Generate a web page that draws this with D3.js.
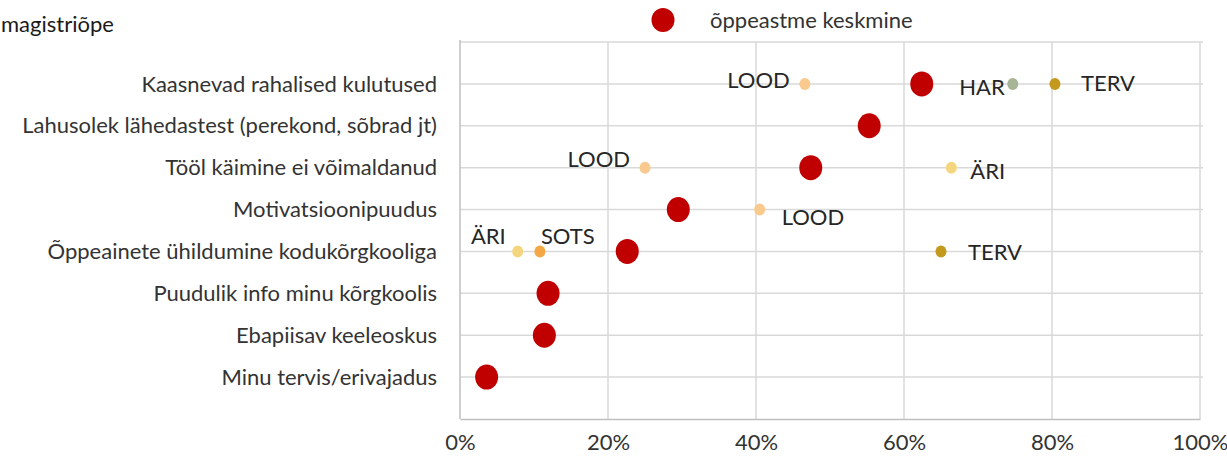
<!DOCTYPE html>
<html>
<head>
<meta charset="utf-8">
<script src="https://cdn.jsdelivr.net/npm/d3@7"></script>
<style>
  body { margin: 0; background: #fff; }
  text { font-family: Lato, "Open Sans", sans-serif; fill: #333; }
</style>
</head>
<body>
<svg id="chart" width="1227" height="460"></svg>
<script>
// Data
const categories = [
  'Kaasnevad rahalised kulutused',
  'Lahusolek lähedastest (perekond, sõbrad jt)',
  'Tööl käimine ei võimaldanud',
  'Motivatsioonipuudus',
  'Õppeainete ühildumine kodukõrgkooliga',
  'Puudulik info minu kõrgkoolis',
  'Ebapiisav keeleoskus',
  'Minu tervis/erivajadus',
];
const averages = [0.624, 0.553, 0.474, 0.295, 0.226, 0.119, 0.114, 0.036];

// group points: [category index, group, value]
const groupPoints = [
  [0, 'LOOD', 0.466],
  [0, 'HAR', 0.747],
  [0, 'TERV', 0.804],
  [2, 'LOOD', 0.250],
  [2, 'ÄRI', 0.664],
  [3, 'LOOD', 0.405],
  [4, 'ÄRI', 0.078],
  [4, 'SOTS', 0.108],
  [4, 'TERV', 0.650],
];
const xTicks = [0, 0.2, 0.4, 0.6, 0.8, 1];
const legendLabel = 'õppeastme keskmine';
const titleText = 'magistriõpe';

// Styles
const groupColor = {
  LOOD: '#f9c98d',
  HAR: '#a7b594',
  TERV: '#c39a1e',
  'ÄRI': '#f4d67e',
  SOTS: '#f3a745',
};
const avgColor = '#c00000';

// label placement per point: [dx, dy, anchor]
const labelPlace = {
  '0|LOOD': [-15, -4, 'end'],
  '0|HAR': [-8, 3, 'end'],
  '0|TERV': [26, -1, 'start'],
  '2|LOOD': [-15, -8, 'end'],
  '2|ÄRI': [19, 4, 'start'],
  '3|LOOD': [22, 8, 'start'],
  '4|ÄRI': [-12, -15, 'end'],
  '4|SOTS': [1, -15, 'start'],
  '4|TERV': [27, 1, 'start'],
};

const svg = d3.select('#chart');
const margin = { top: 42, right: 27, bottom: 41, left: 460 };
const width = 1227 - margin.left - margin.right;
const height = 460 - margin.top - margin.bottom;

const x = d3.scaleLinear().domain([0, 1]).range([0, width]);
const y = d3.scaleLinear().domain([0, categories.length + 1]).range([height, 0]);
const yOf = (i) => y(categories.length - i);

const g = svg.append('g')
  .attr('transform', `translate(${margin.left},${margin.top})`);

// Grid
g.append('g')
  .selectAll('line')
  .data(d3.range(1, categories.length + 2))
  .enter().append('line')
  .attr('x1', 0).attr('x2', width + 3)
  .attr('y1', (d) => y(d)).attr('y2', (d) => y(d))
  .attr('stroke', '#d9d9d9').attr('stroke-width', 1.5);

g.append('g')
  .selectAll('line')
  .data(xTicks.slice(1))
  .enter().append('line')
  .attr('x1', (d) => x(d)).attr('x2', (d) => x(d))
  .attr('y1', 0).attr('y2', height)
  .attr('stroke', '#d9d9d9').attr('stroke-width', 1.5);

// Axes
const xAxis = d3.axisBottom(x).tickValues(xTicks).tickFormat(d3.format('.0%')).tickSize(0).tickPadding(15);
const xg = g.append('g')
  .attr('transform', `translate(0,${height})`)
  .call(xAxis);
xg.select('.domain').attr('stroke', '#bfbfbf').attr('stroke-width', 1.5);
xg.selectAll('text').style('font-size', '22px').style('font-family', 'Lato, sans-serif').attr('fill', '#404040');

g.append('line')
  .attr('x1', 0).attr('x2', 0)
  .attr('y1', -2).attr('y2', height)
  .attr('stroke', '#bfbfbf').attr('stroke-width', 1.5);

// Category labels
g.append('g')
  .selectAll('text')
  .data(categories)
  .enter().append('text')
  .attr('x', -23)
  .attr('y', (d, i) => yOf(i))
  .attr('dy', '0.35em')
  .attr('text-anchor', 'end')
  .style('font-size', '22px')
  .text((d) => d);

// Group points
g.append('g')
  .selectAll('ellipse')
  .data(groupPoints)
  .enter().append('ellipse')
  .attr('cx', (d) => x(d[2]))
  .attr('cy', (d) => yOf(d[0]))
  .attr('rx', 5.5).attr('ry', 6)
  .attr('fill', (d) => groupColor[d[1]]);

g.append('g')
  .selectAll('text')
  .data(groupPoints)
  .enter().append('text')
  .attr('x', (d) => x(d[2]) + labelPlace[`${d[0]}|${d[1]}`][0])
  .attr('y', (d) => yOf(d[0]) + labelPlace[`${d[0]}|${d[1]}`][1])
  .attr('dy', '0.35em')
  .attr('text-anchor', (d) => labelPlace[`${d[0]}|${d[1]}`][2])
  .style('font-size', '22px')
  .style('fill', '#262626')
  .text((d) => d[1]);

// Averages
g.append('g')
  .selectAll('ellipse')
  .data(averages)
  .enter().append('ellipse')
  .attr('cx', (d) => x(d))
  .attr('cy', (d, i) => yOf(i))
  .attr('rx', 11.5).attr('ry', 12.5)
  .attr('fill', avgColor);

// Legend
svg.append('ellipse')
  .attr('cx', 663).attr('cy', 20)
  .attr('rx', 11.5).attr('ry', 12)
  .attr('fill', avgColor);
svg.append('text')
  .attr('x', 710).attr('y', 20)
  .attr('dy', '0.35em')
  .style('font-size', '22px')
  .text(legendLabel);

// Title fragment
svg.append('text')
  .attr('x', 1).attr('y', 24)
  .attr('dy', '0.35em')
  .style('font-size', '22px')
  .style('fill', '#1a1a1a')
  .text(titleText);
</script>
</body>
</html>
